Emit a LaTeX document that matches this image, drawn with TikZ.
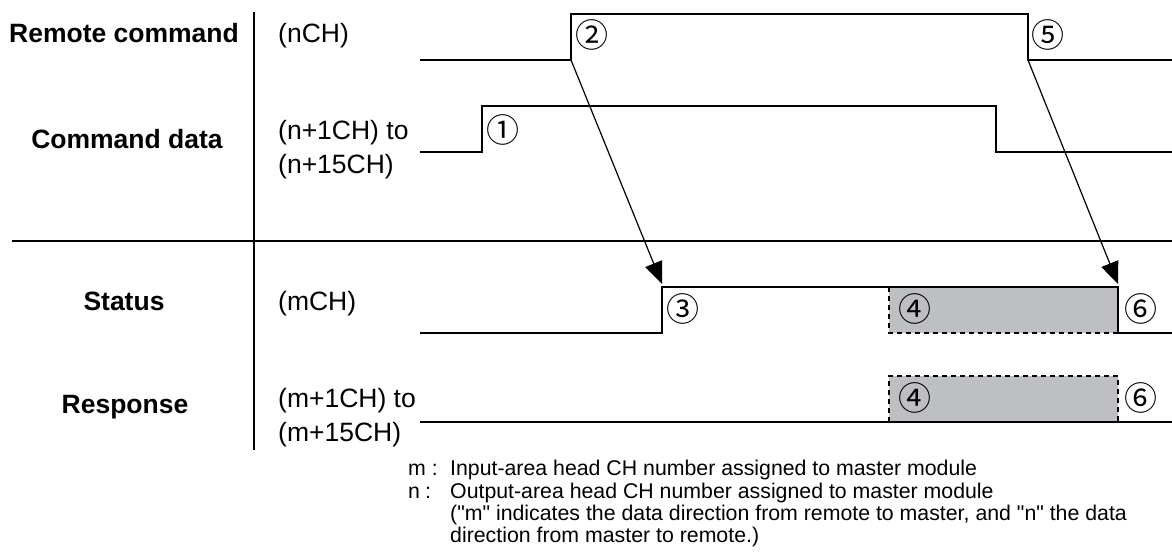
\documentclass[tikz,border=0pt]{standalone}
\usepackage{fontspec}
\setmainfont{Liberation Sans}
\newfontfamily\circfont{Noto Sans CJK JP}
\usetikzlibrary{arrows.meta}
\definecolor{busygray}{RGB}{190,191,195}
\tikzset{
  sig/.style={line width=2.6pt, line join=miter},
  sep/.style={line width=2.2pt},
  cue/.style={line width=1.2pt, -{Triangle[length=22pt,width=18pt]}},
  lbl/.style={font=\fontsize{26.5}{30}\selectfont\bfseries, anchor=base},
  chn/.style={font=\fontsize{26.5}{30}\selectfont, anchor=base west, inner sep=0pt},
  num/.style={font=\circfont\fontsize{33}{33}\selectfont, inner sep=0pt},
  note/.style={font=\fontsize{21.3}{22}\selectfont, anchor=base west, inner sep=0pt},
  busy/.style={fill=busygray, draw=none},
  busyedge/.style={line width=1.8pt, dash pattern=on 5pt off 4pt},
}

\begin{document}
\begin{tikzpicture}[x=1pt,y=-1pt]
                \useasboundingbox (0,0) rectangle (1172,552);
                % row labels
                \node[lbl] (rc) at (124,42) {Remote command};
                \node[lbl] (cd) at (127,148) {Command data};
                \node[lbl] (st) at (124,310) {Status};
                \node[lbl] (rs) at (125,413) {Response};
                \node[chn] (nch) at (278,42) {(nCH)};
                \node[chn] (n1ch) at (278,139) {(n+1CH) to};
                \node[chn] (n15ch) at (278,173) {(n+15CH)};
                \node[chn] (mch) at (278,310) {(mCH)};
                \node[chn] (m1ch) at (278,407) {(m+1CH) to};
                \node[chn] (m15ch) at (278,441) {(m+15CH)};
                \draw[sep] (254,12) -- (254,450);
                \draw[sep] (12,241) -- (1172,241);
                % signals
                \coordinate (rcup) at (571,60);
                \coordinate (rcdn) at (1028,60);
                \coordinate (stup) at (662,284);
                \coordinate (stdn) at (1118,284);
                \draw[sig] (420,60) -- (rcup) -- (571,14) -- (1028,14) -- (rcdn) -- (1172,60);
                \draw[sig] (420,152) -- (482,152) -- (482,106) -- (996,106) -- (996,152) -- (1172,152);
                \fill[busy] (889,287) rectangle (1118,333);
                \draw[busyedge] (889,287) -- (889,333) -- (1118,333);
                \draw[sig] (420,333) -- (662,333) -- (662,287) -- (1118,287) -- (1118,333) -- (1172,333);
                \fill[busy] (889,376) rectangle (1118,422);
                \draw[busyedge] (889,422) -- (889,376) -- (1118,376) -- (1118,422);
                \draw[sig] (420,422) -- (1172,422);
                \draw[cue] (rcup) -- (stup);
                \draw[cue] (rcdn) -- (stdn);
                % steps
                \node[num] (s1) at (503,130) {①};
                \node[num] (s2) at (592,35) {②};
                \node[num] (s3) at (683,309) {③};
                \node[num] (s4) at (915,309) {④};
                \node[num] (s4r) at (915,398) {④};
                \node[num] (s5) at (1048,35) {⑤};
                \node[num] (s6) at (1141,309) {⑥};
                \node[num] (s6r) at (1141,398) {⑥};
                % key
                \node[note] (mkey) at (408,475) {\makebox[42pt][l]{m :}Input-area head CH number assigned to master module};
                \node[note] (nkey) at (408,498) {\makebox[42pt][l]{n\hspace{5pt}:}Output-area head CH number assigned to master module};
                \node[note] (note1) at (450,520) {(\textquotedbl m\textquotedbl{} indicates the data direction from remote to master, and \textquotedbl n\textquotedbl{} the data};
                \node[note] (note2) at (450,542) {direction from master to remote.)};
\end{tikzpicture}
\end{document}
